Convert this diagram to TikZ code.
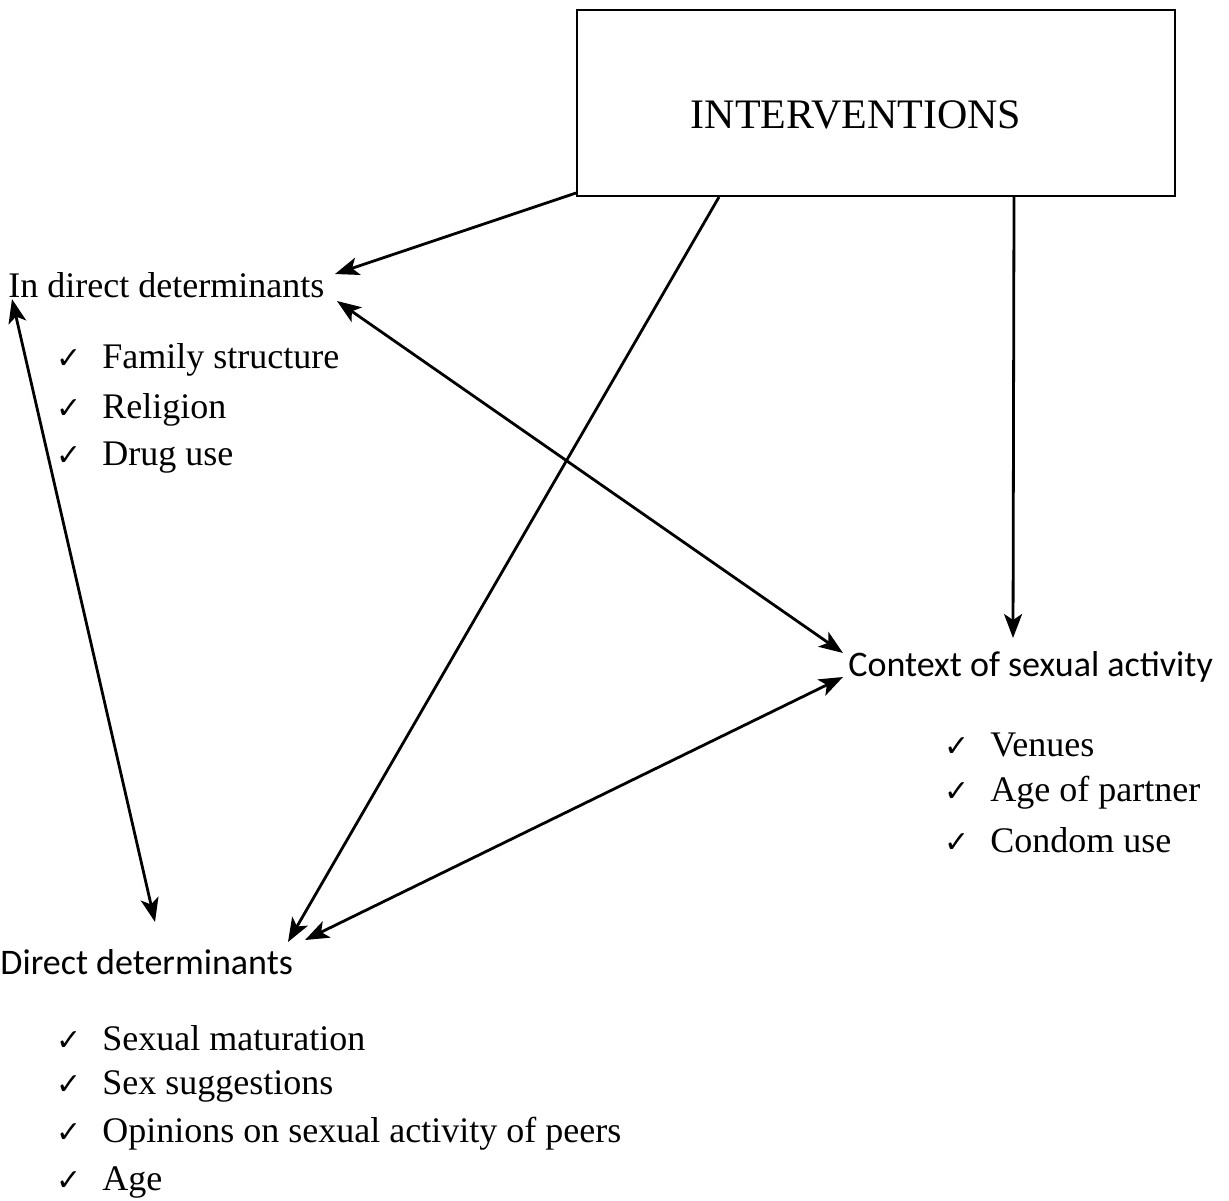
\documentclass[tikz,border=0pt]{standalone}
\usepackage{fontspec}
\setmainfont{Liberation Serif}
\newfontfamily\calibri{Carlito}
\newfontfamily\symbfont{DejaVu Sans}
\usetikzlibrary{arrows.meta,positioning,calc}

\begin{document}
\begin{tikzpicture}[x=0.5pt,y=-0.5pt,
  txt/.style={inner sep=0pt,anchor=west,font=\fontsize{18}{21}\selectfont},
  sans/.style={inner sep=0pt,anchor=west,font=\calibri\fontsize{18}{21}\selectfont},
  item/.style={txt},
  tick/.style={inner sep=0pt,anchor=base east,font=\symbfont\fontsize{15}{18}\selectfont},
  arr/.style={line width=1.4pt,-{Stealth[length=12pt,width=9pt,inset=3pt]}},
  dbl/.style={line width=1.4pt,{Stealth[length=12pt,width=9pt,inset=3pt]}-{Stealth[length=12pt,width=9pt,inset=3pt]}}]
\useasboundingbox[fill=white] (0,0) rectangle (1229,1200);
% box
\node [draw,line width=1pt,minimum width=299pt,minimum height=93pt,inner sep=0pt] (interv) at (876,103) {};
\node [inner sep=0pt,font=\fontsize{21}{25}\selectfont] (intervtxt) at ([xshift=-10pt,yshift=-6pt]interv.center) {INTERVENTIONS};
% indirect determinants
\node [txt] (indirect) at (8,285) {In direct determinants};
\node [item] (fam) at (102,360) {Family structure};
\node [item] (rel) at (102,410) {Religion};
\node [item] (drug) at (102,458) {Drug use};
% context
\node [sans] (context) at (848,667) {Context of sexual activity};
\node [item] (ven) at (990,745) {Venues};
\node [item] (agep) at (990,793) {Age of partner};
\node [item] (cond) at (990,840) {Condom use};
% direct determinants
\node [sans] (direct) at (0,962) {Direct determinants};
\node [item] (mat) at (102,1038) {Sexual maturation};
\node [item] (sugg) at (102,1086) {Sex suggestions};
\node [item] (opin) at (102,1134) {Opinions on sexual activity of peers};
\node [item] (age) at (102,1182) {Age};
% check marks
\foreach \n in {fam,rel,drug,ven,agep,cond,mat,sugg,opin,age}
  \node [tick] (tick-\n) at ([xshift=-10pt]\n.base west) {✓};
% arrows
\draw [arr] ($(interv.south west)+(0,-4)$) -- ($(indirect.west)+(327,-11)$);
\draw [arr] ($(interv.south west)+(143,0)$) -- ($(direct.west)+(288,-20)$);
\draw [arr] ($(interv.south west)+(438,0)$) -- ($(context.west)+(165,-29)$);
\draw [dbl] ($(indirect.west)+(329,16)$) -- ($(context.west)+(-5,-14)$);
\draw [dbl] ($(indirect.west)+(4,14)$) -- ($(direct.west)+(155,-40)$);
\draw [dbl] ($(direct.west)+(305,-22)$) -- ($(context.west)+(-5,10)$);
\end{tikzpicture}
\end{document}
